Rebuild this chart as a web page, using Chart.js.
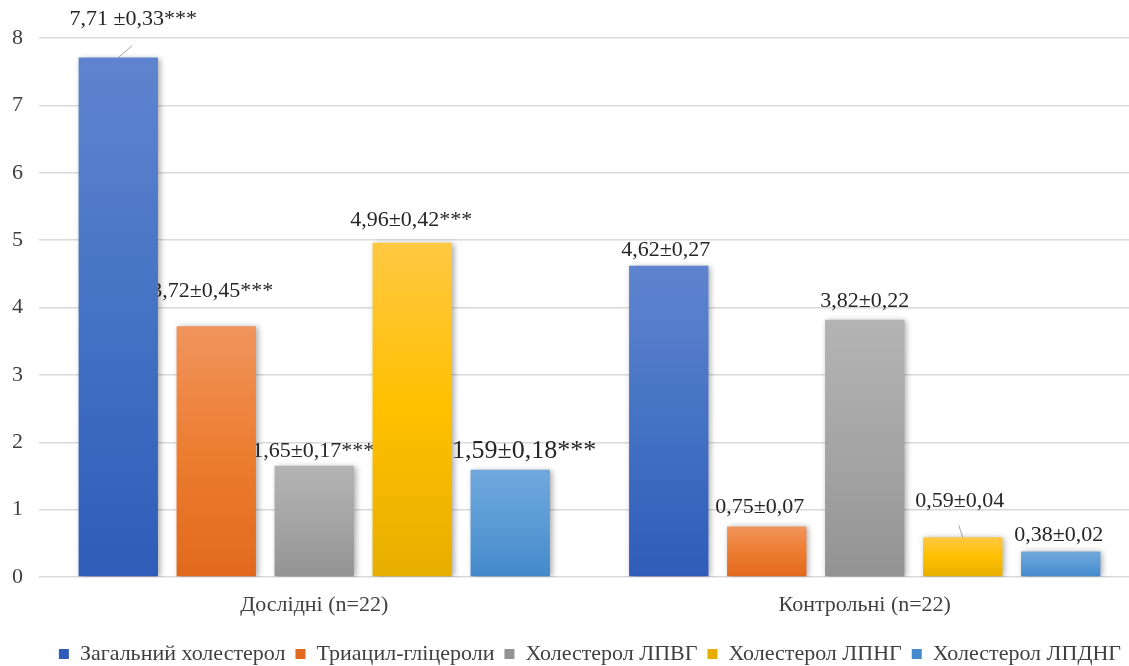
<!DOCTYPE html>
<html>
<head>
<meta charset="utf-8">
<script src="https://cdn.jsdelivr.net/npm/chart.js@4.4.1/dist/chart.umd.min.js"></script>
<style>
  html, body { margin: 0; padding: 0; background: #fff; overflow: hidden; }
  #wrap { width: 1152px; height: 675px; margin-left: -12px; }
</style>
</head>
<body>
<div id="wrap"><canvas id="chart"></canvas></div>
<script>
// дані з рисунку
const categories = ['Дослідні (n=22)', 'Контрольні (n=22)'];
const seriesNames = ['Загальний холестерол', 'Триацил-гліцероли', 'Холестерол ЛПВГ', 'Холестерол ЛПНГ', 'Холестерол ЛПДНГ'];
const zagalnyi = [7.71, 4.62];
const triacyl = [3.72, 0.75];
const lpvg = [1.65, 3.82];
const lpng = [4.96, 0.59];
const lpdng = [1.59, 0.38];
const labelsZagalnyi = ['7,71 ±0,33***', '4,62±0,27'];
const labelsTriacyl = ['3,72±0,45***', '0,75±0,07'];
const labelsLpvg = ['1,65±0,17***', '3,82±0,22'];
const labelsLpng = ['4,96±0,42***', '0,59±0,04'];
const labelsLpdng = ['1,59±0,18***', '0,38±0,02'];
const yTicks = [0, 1, 2, 3, 4, 5, 6, 7, 8];

// кольори: верх, середина, низ градієнта
const colors = [
  ['#5f84cf', '#4472c4', '#2f5cb8'],
  ['#f0945c', '#ed7d31', '#e1691d'],
  ['#b4b4b4', '#a5a5a5', '#939393'],
  ['#ffc842', '#ffc000', '#e6ae00'],
  ['#70a8de', '#5b9bd5', '#4389cb']
];

// зсув підписів відносно верху стовпця (dx, dy, розмір шрифту, виноска)
const labelStyle = [
  [[15, -38, 22, [14, -12]], [-3, -16, 22, null]],
  [[-4, -35, 22, null], [-7, -19, 22, null]],
  [[-1, -15, 22, null], [0, -18, 22, null]],
  [[-1, -23, 22, null], [-3, -36, 22, [-4, -12]]],
  [[14, -19, 26, null], [-2, -16, 22, null]]
];

const seriesValues = [zagalnyi, triacyl, lpvg, lpng, lpdng];
const seriesLabels = [labelsZagalnyi, labelsTriacyl, labelsLpvg, labelsLpng, labelsLpdng];

function gradient(c) {
  return function (ctx) {
    const chart = ctx.chart;
    if (ctx.type !== 'data' || !chart.chartArea) return c[1];
    const y = chart.scales.y;
    const top = y.getPixelForValue(ctx.raw);
    const bottom = y.getPixelForValue(0);
    const g = chart.ctx.createLinearGradient(0, top, 0, bottom);
    g.addColorStop(0, c[0]);
    g.addColorStop(0.5, c[1]);
    g.addColorStop(1, c[2]);
    return g;
  };
}

const datasets = seriesNames.map((name, i) => ({
  label: name,
  data: seriesValues[i],
  backgroundColor: gradient(colors[i]),
  borderWidth: 0,
  categoryPercentage: 0.89,
  barPercentage: 0.81
}));

// підписи малюються під стовпцями, як на оригіналі
const valueLabels = {
  id: 'valueLabels',
  afterLayout(chart) {
    // легенду трохи лівіше
    chart.legend.left -= 9;
    chart.legend.right -= 9;
  },
  beforeDatasetsDraw(chart) {
    const ctx = chart.ctx;
    ctx.save();
    ctx.textAlign = 'center';
    ctx.textBaseline = 'middle';
    chart.data.datasets.forEach((ds, i) => {
      chart.getDatasetMeta(i).data.forEach((bar, j) => {
        const st = labelStyle[i][j];
        ctx.font = st[2] + 'px "Liberation Serif"';
        ctx.fillStyle = '#262626';
        ctx.fillText(seriesLabels[i][j], bar.x + st[0], bar.y + st[1]);
        if (st[3]) {
          ctx.strokeStyle = '#a6a6a6';
          ctx.lineWidth = 1;
          ctx.beginPath();
          ctx.moveTo(bar.x, bar.y);
          ctx.lineTo(bar.x + st[3][0], bar.y + st[3][1]);
          ctx.stroke();
        }
      });
    });
    ctx.restore();
    // тінь стовпців
    ctx.save();
    ctx.shadowColor = 'rgba(0,0,0,0.35)';
    ctx.shadowBlur = 6;
    ctx.shadowOffsetX = 2;
    ctx.shadowOffsetY = 1;
  },
  afterDatasetsDraw(chart) {
    chart.ctx.restore();
  }
};

new Chart(document.getElementById('chart'), {
  type: 'bar',
  data: { labels: categories, datasets: datasets },
  plugins: [valueLabels],
  options: {
    responsive: true,
    maintainAspectRatio: false,
    animation: false,
    layout: { padding: { top: 38, left: 8, right: 0, bottom: 0 } },
    plugins: {
      legend: {
        position: 'bottom',
        align: 'end',
        labels: {
          boxWidth: 10,
          boxHeight: 10,
          padding: 10,
          color: '#404040',
          font: { family: 'Liberation Serif', size: 22 }
        }
      },
      tooltip: { enabled: false }
    },
    scales: {
      x: {
        grid: { display: false, drawTicks: false },
        border: { display: false },
        ticks: { color: '#404040', padding: 17, font: { family: 'Liberation Serif', size: 22, lineHeight: 1 } }
      },
      y: {
        min: 0,
        max: 8,
        afterBuildTicks(axis) { axis.ticks = yTicks.map(v => ({ value: v })); },
        grid: { color: '#d9d9d9', lineWidth: 1.5, drawTicks: false },
        border: { display: false },
        ticks: { color: '#404040', padding: 16, font: { family: 'Liberation Serif', size: 22 } }
      }
    }
  }
});
</script>
</body>
</html>
